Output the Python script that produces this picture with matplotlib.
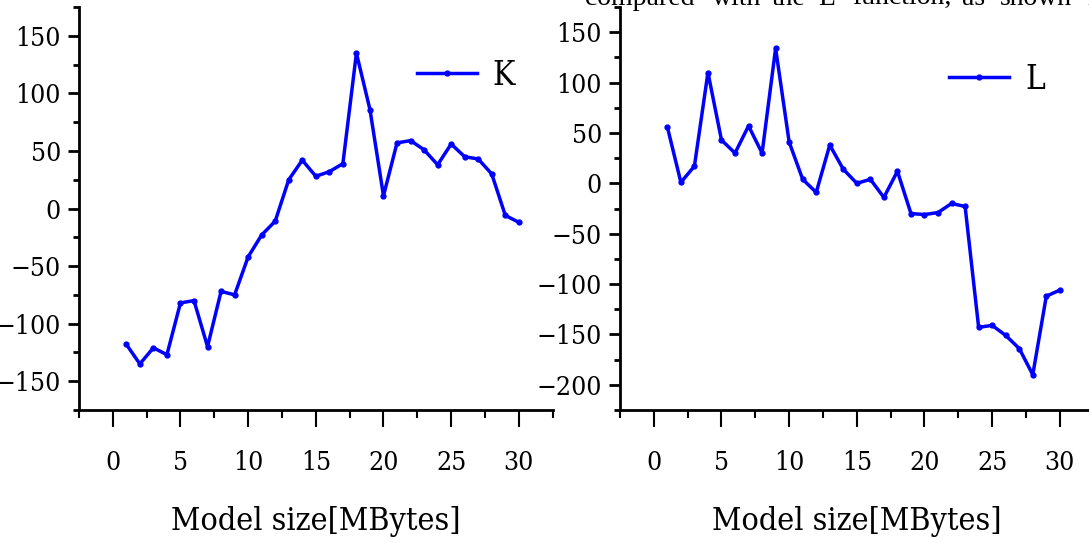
import matplotlib
matplotlib.use("Agg")
import matplotlib.pyplot as plt
from matplotlib.ticker import MultipleLocator

# 数据
size_mb = list(range(1, 31))
k_vals = [-118, -135, -121, -127, -82, -80, -120, -72, -75, -42,
          -23, -11, 25, 42, 28, 32, 39, 135, 86, 11,
          57, 59, 51, 38, 56, 45, 43, 30, -6, -12]
l_vals = [56, 1, 17, 110, 43, 30, 57, 30, 134, 41,
          4, -9, 38, 14, 0, 4, -14, 12, -30, -31,
          -29, -20, -23, -143, -141, -151, -164, -190, -112, -106]
x_ticks = [0, 5, 10, 15, 20, 25, 30]

# 顶部被截断的正文（两端对齐，逐词放置）
top_words = ["compared", "with", "the", "L", "function,", "as", "shown", "in"]
top_word_x = [585, 712, 772, 818, 852, 962, 1000, 1087]

FONT = dict(family=["DejaVu Serif"], stretch="condensed")
BLUE = "#0000ff"
W, H = 1089, 543

fig = plt.figure(figsize=(10.89, 5.43), dpi=100)
ax1 = fig.add_axes([0.0725, 0.245, 0.435, 0.742])
ax2 = fig.add_axes([0.5693, 0.245, 0.435, 0.742])


def style_axis(ax, ylim, ymajor):
    ax.set_xlim(-2.5, 32.5)
    ax.set_ylim(*ylim)
    for s in ["top", "right"]:
        ax.spines[s].set_visible(False)
    for s in ["left", "bottom"]:
        ax.spines[s].set_linewidth(2.0)
    ax.xaxis.set_major_locator(MultipleLocator(5))
    ax.xaxis.set_minor_locator(MultipleLocator(2.5))
    ax.yaxis.set_major_locator(MultipleLocator(ymajor))
    ax.yaxis.set_minor_locator(MultipleLocator(ymajor / 2))
    ax.set_xticks(x_ticks)
    ax.tick_params(axis="x", which="major", direction="out", length=12, width=1.5, pad=17)
    ax.tick_params(axis="x", which="minor", direction="out", length=6, width=1.5)
    ax.tick_params(axis="y", which="major", direction="out", length=8, width=2, pad=5)
    ax.tick_params(axis="y", which="minor", direction="out", length=4, width=2)
    for lab in ax.get_xticklabels() + ax.get_yticklabels():
        lab.set_fontsize(19)
        lab.set_fontfamily(FONT["family"])
        lab.set_fontstretch(FONT["stretch"])
    ax.set_xlabel("Model size[MBytes]", fontsize=23, labelpad=22, **FONT)


# 左图 K
ax1.plot(size_mb, k_vals, color=BLUE, lw=2.5, marker="o", ms=3.5, label="K")
style_axis(ax1, (-175, 175), 50)
ax1.legend(loc="center left", bbox_to_anchor=(0.713, 0.83), frameon=False,
           prop=dict(size=24, **FONT), handlelength=1.8, handletextpad=0.48,
           borderpad=0, borderaxespad=0)

# 右图 L
ax2.plot(size_mb, l_vals, color=BLUE, lw=2.5, marker="o", ms=3.5, label="L")
style_axis(ax2, (-225, 175), 50)
ax2.legend(loc="center left", bbox_to_anchor=(0.695, 0.82), frameon=False,
           prop=dict(size=24, **FONT), handlelength=1.8, handletextpad=0.48,
           borderpad=0, borderaxespad=0)

for word, px in zip(top_words, top_word_x):
    fig.text(px / W, 1 - 5 / H, word, fontsize=20, family="Liberation Serif",
             va="baseline", ha="left")

fig.savefig("out.png", dpi=100)
